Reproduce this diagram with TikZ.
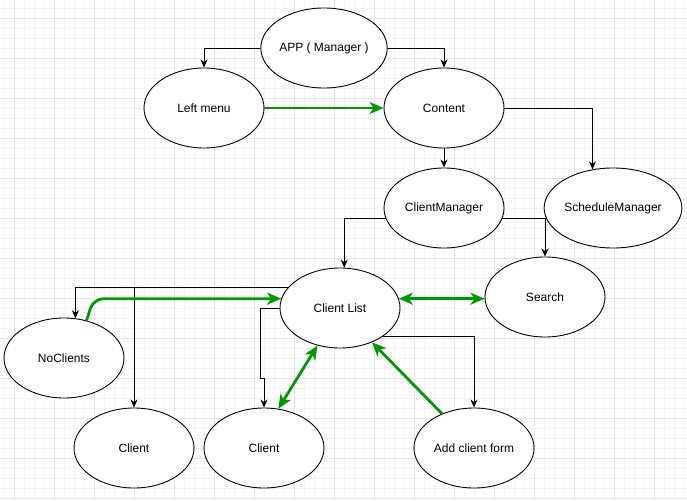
\documentclass[tikz,border=0pt]{standalone}
\usepackage{fontspec}
\setmainfont{Liberation Sans}
\usetikzlibrary{shapes.geometric,arrows.meta}
\definecolor{gmin}{HTML}{F4F4F4}
\definecolor{gmaj}{HTML}{E4E4E4}
\definecolor{ggreen}{HTML}{009900}
\tikzset{
  oval/.style={ellipse, draw=black, line width=0.9pt, fill=white, minimum width=120pt, minimum height=80pt, inner sep=0pt, font=\fontsize{12}{14}\selectfont},
  arr/.style={draw=black, line width=0.9pt, -{Stealth[length=8pt,width=7pt,inset=2.5pt]}},
  garr/.style={draw=ggreen, line width=2.8pt, -{Stealth[length=14pt,width=12pt,inset=4pt]}},
  gboth/.style={draw=ggreen, line width=2.8pt, {Stealth[length=14pt,width=12pt,inset=4pt]}-{Stealth[length=14pt,width=12pt,inset=4pt]}}
}
\begin{document}
\begin{tikzpicture}[x=1pt,y=-1pt]
\useasboundingbox (0,0) rectangle (687,500);
\fill[white] (0,0) rectangle (687,500);
% grid
\foreach \i in {0,...,68} {\draw[gmin, line width=0.8pt] (4+\i*10,0) -- (4+\i*10,500);}
\foreach \j in {0,...,49} {\draw[gmin, line width=0.8pt] (0,8+\j*10) -- (687,8+\j*10);}
\foreach \i in {0,...,17} {\draw[gmaj, line width=0.9pt] (14+\i*40,0) -- (14+\i*40,500);}
\foreach \j in {0,...,12} {\draw[gmaj, line width=0.9pt] (0,18+\j*40) -- (687,18+\j*40);}
% nodes
\node[oval] (app) at (324,48) {APP ( Manager )};
\node[oval] (left) at (204,108) {Left menu};
\node[oval] (content) at (444,108) {Content};
\node[oval] (cm) at (444,208) {ClientManager};
\node[oval] (sched) at (613,208) {ScheduleManager};
\node[oval] (cl) at (340,308) {Client List};
\node[oval] (search) at (545,297) {Search};
\node[oval] (noc) at (64,358) {NoClients};
\node[oval] (c1) at (134,448) {Client};
\node[oval] (c2) at (264,448) {Client};
\node[oval] (acf) at (474,448) {Add client form};
% black connectors
\draw[arr] (app.west) -| (left.north);
\draw[arr] (app.east) -| (content.north);
\draw[arr] (content.east) -| (sched.118);
\draw[arr] (content.south) -- (cm.north);
\draw[arr] (cm.190) -| (cl.84);
\draw[arr] (cm.350) -| (search.north);
\draw[arr] (cl.159) -| (noc.74);
\draw[arr] (cl.159) -| (c1.north);
\draw[arr] (cl.west) -| (260,378) -| (c2.north);
\draw[arr] (cl.-33) -| (acf.north);
% green connectors
\draw[garr] (left.east) -- (content.west);
\draw[gboth] (cl.9) -- (cl.9 -| search.west);
\draw[garr, rounded corners=10pt] (noc.59) -- ([xshift=7pt]noc.59 |- cl.171) -- (cl.171);
\draw[gboth] (cl.-121) -- (c2.70);
\draw[garr] (acf.133) -- (cl.-47);
\end{tikzpicture}
\end{document}
